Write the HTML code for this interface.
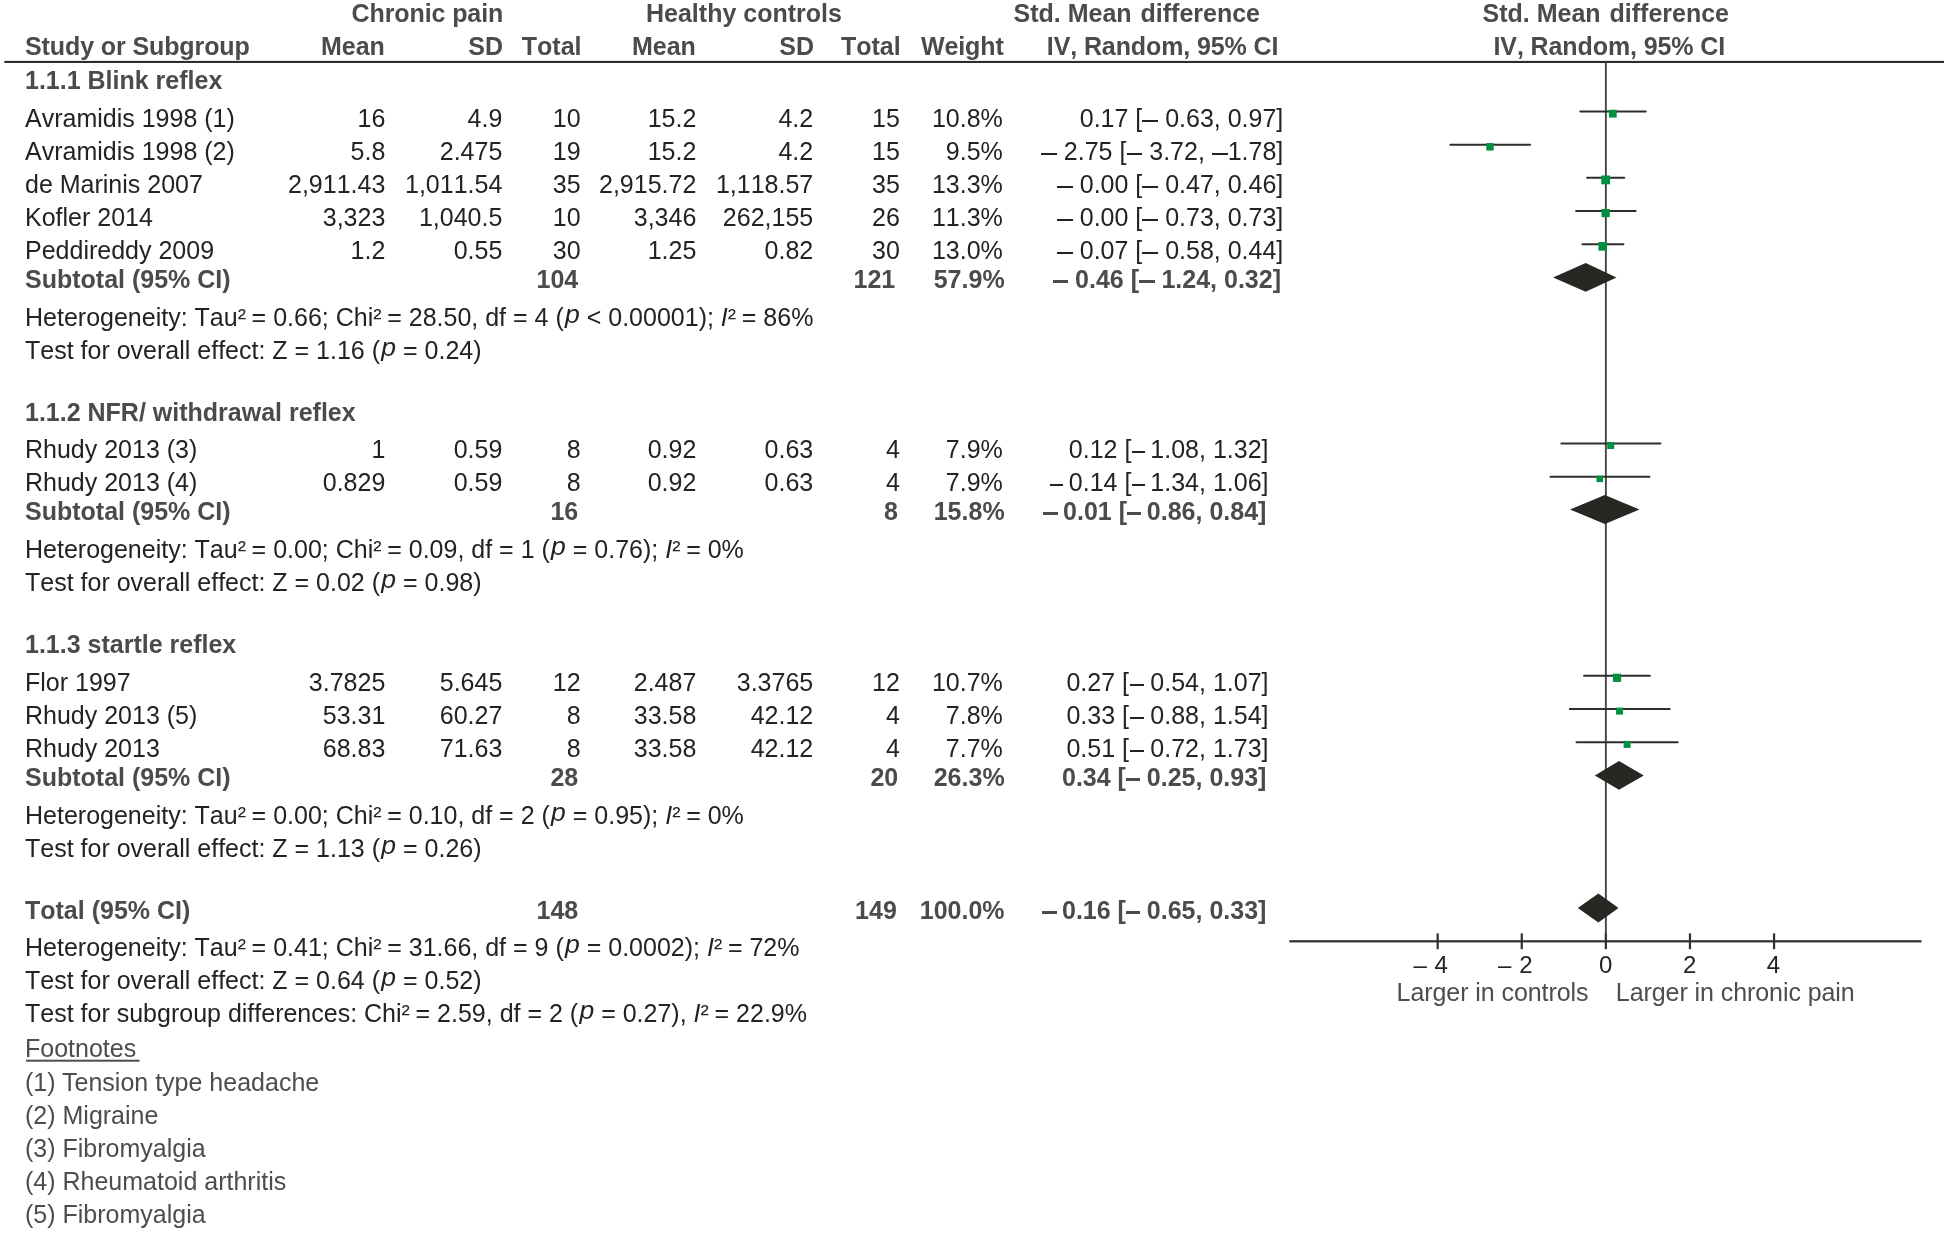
<!DOCTYPE html>
<html><head><meta charset="utf-8"><title>Forest plot</title>
<style>
html,body{margin:0;padding:0;background:#fff;}
body{width:1949px;height:1234px;position:relative;overflow:hidden;font-family:"Liberation Sans",sans-serif;}
.t{position:absolute;white-space:nowrap;font-kerning:none;font-size:25px;line-height:30px;color:#232321;}
.b{font-weight:bold;color:#4b4b49;}
.f{color:#4d4d4b;font-kerning:normal;}
.ax{font-size:24px;}
.ls{letter-spacing:-0.1px;}
.cap{letter-spacing:-0.07px;}
.p{position:relative;top:-3px;font-size:26.5px;margin-left:1.3px;}
.s{margin-right:-1.3px;}
.d{display:inline-block;width:15.9px;height:0;position:relative;vertical-align:baseline;}
.d:before{content:"";position:absolute;left:0.1px;width:15.7px;top:-7.41px;height:2.1px;background:#232321;}
.e{width:12px;}
.e:before{left:0.4px;width:13px;}
.g{width:14.4px;}
.g:before{left:0.7px;width:14.7px;}
.b .d{width:15.5px;}
.b .d:before{left:0.4px;width:15.1px;top:-7.86px;height:3.2px;background:#4b4b49;}
.b .h{width:14px;}
.b .h:before{left:0;width:14.4px;}
.b .e{width:12.9px;}
.b .e:before{left:0;width:14.4px;}
#page{position:absolute;left:0;top:0;width:1949px;height:1234px;will-change:transform;}
svg{position:absolute;left:0;top:0;}
</style></head><body>
<div id="page">
<svg width="1949" height="1234" viewBox="0 0 1949 1234" >
<rect x="4.3" y="60.9" width="1939.7" height="2.1" fill="#2c2c2a"/>
<rect x="1604.91" y="62" width="1.9" height="872" fill="#454543"/>
<rect x="1289.3" y="940.2" width="632.2" height="2.2" fill="#2e2e2c"/>
<rect x="1436.56" y="933.4" width="2.2" height="15.8" fill="#2e2e2c"/>
<rect x="1520.66" y="933.4" width="2.2" height="15.8" fill="#2e2e2c"/>
<rect x="1604.76" y="933.4" width="2.2" height="15.8" fill="#2e2e2c"/>
<rect x="1688.86" y="933.4" width="2.2" height="15.8" fill="#2e2e2c"/>
<rect x="1772.96" y="933.4" width="2.2" height="15.8" fill="#2e2e2c"/>
<rect x="26" y="1059.7" width="113.5" height="2" fill="#4d4d4b"/>
<line x1="1580.27" y1="111.55" x2="1645.75" y2="111.55" stroke="#2e2e2c" stroke-width="1.9" stroke-linecap="round"/>
<rect x="1608.91" y="109.75" width="7.8" height="7.8" fill="#00903f"/>
<line x1="1450.33" y1="144.70" x2="1530.11" y2="144.70" stroke="#2e2e2c" stroke-width="1.9" stroke-linecap="round"/>
<rect x="1486.32" y="143.10" width="7.4" height="7.4" fill="#00903f"/>
<line x1="1587.00" y1="177.80" x2="1624.30" y2="177.80" stroke="#2e2e2c" stroke-width="1.9" stroke-linecap="round"/>
<rect x="1601.26" y="175.50" width="8.8" height="8.8" fill="#00903f"/>
<line x1="1576.06" y1="211.00" x2="1635.66" y2="211.00" stroke="#2e2e2c" stroke-width="1.9" stroke-linecap="round"/>
<rect x="1601.56" y="209.00" width="8.2" height="8.2" fill="#00903f"/>
<line x1="1582.37" y1="244.25" x2="1623.46" y2="244.25" stroke="#2e2e2c" stroke-width="1.9" stroke-linecap="round"/>
<rect x="1598.42" y="242.05" width="8.6" height="8.6" fill="#00903f"/>
<polygon points="1553.1,277.4 1585.7,263.0 1616.5,277.4 1585.7,291.8" fill="#282724"/>
<line x1="1561.35" y1="443.45" x2="1660.47" y2="443.45" stroke="#2e2e2c" stroke-width="1.9" stroke-linecap="round"/>
<rect x="1607.21" y="442.05" width="7.0" height="7.0" fill="#00903f"/>
<line x1="1550.41" y1="476.80" x2="1649.53" y2="476.80" stroke="#2e2e2c" stroke-width="1.9" stroke-linecap="round"/>
<rect x="1596.52" y="475.65" width="6.5" height="6.5" fill="#00903f"/>
<polygon points="1570.0,509.5 1604.8,495.1 1639.5,509.5 1604.8,523.9" fill="#282724"/>
<line x1="1584.05" y1="675.70" x2="1649.95" y2="675.70" stroke="#2e2e2c" stroke-width="1.9" stroke-linecap="round"/>
<rect x="1612.91" y="673.70" width="8.2" height="8.2" fill="#00903f"/>
<line x1="1569.76" y1="709.00" x2="1669.72" y2="709.00" stroke="#2e2e2c" stroke-width="1.9" stroke-linecap="round"/>
<rect x="1616.04" y="707.60" width="7.0" height="7.0" fill="#00903f"/>
<line x1="1576.48" y1="742.30" x2="1677.71" y2="742.30" stroke="#2e2e2c" stroke-width="1.9" stroke-linecap="round"/>
<rect x="1623.61" y="740.90" width="7.0" height="7.0" fill="#00903f"/>
<polygon points="1594.8,775.4 1619.0,761.0 1643.8,775.4 1619.0,789.8" fill="#282724"/>
<polygon points="1577.8,908.0 1598.4,893.6 1618.5,908.0 1598.4,922.4" fill="#282724"/>
</svg>
<div class="t b ls" style="left:351.6px;top:-2px">Chronic pain</div>
<div class="t b" style="left:646px;top:-2px">Healthy controls</div>
<div class="t b" style="left:1013.5px;top:-2px">Std. Mean <span style="margin-left:2px">difference</span></div>
<div class="t b" style="left:1482.5px;top:-2px">Std. Mean <span style="margin-left:2px">difference</span></div>
<div class="t b ls" style="left:25px;top:31px">Study or Subgroup</div>
<div class="t n b" style="right:1564.2px;top:31px">Mean</div>
<div class="t n b" style="right:1446px;top:31px">SD</div>
<div class="t n b" style="right:1367.5px;top:31px">Total</div>
<div class="t n b" style="right:1253.2px;top:31px">Mean</div>
<div class="t n b" style="right:1135px;top:31px">SD</div>
<div class="t n b" style="right:1048.4px;top:31px">Total</div>
<div class="t n b ls" style="right:945.4px;top:31px">Weight</div>
<div class="t b ls" style="left:1046.8px;top:31px">IV, Random, 95% CI</div>
<div class="t b ls" style="left:1493.5px;top:31px">IV, Random, 95% CI</div>
<div class="t b" style="left:25px;top:65px">1.1.1 Blink reflex</div>
<div class="t " style="left:25px;top:103px">Avramidis 1998 (1)</div>
<div class="t n " style="right:1563.7px;top:103px">16</div>
<div class="t n " style="right:1446.7px;top:103px">4.9</div>
<div class="t n " style="right:1368.4px;top:103px">10</div>
<div class="t n " style="right:1252.7px;top:103px">15.2</div>
<div class="t n " style="right:1135.8px;top:103px">4.2</div>
<div class="t n " style="right:1049.1px;top:103px">15</div>
<div class="t n " style="right:946.2px;top:103px">10.8%</div>
<div class="t n " style="right:665.7px;top:103px">0.17 [<span class="d"></span> 0.63, 0.97]</div>
<div class="t " style="left:25px;top:136px">Avramidis 1998 (2)</div>
<div class="t n " style="right:1563.7px;top:136px">5.8</div>
<div class="t n " style="right:1446.7px;top:136px">2.475</div>
<div class="t n " style="right:1368.4px;top:136px">19</div>
<div class="t n " style="right:1252.7px;top:136px">15.2</div>
<div class="t n " style="right:1135.8px;top:136px">4.2</div>
<div class="t n " style="right:1049.1px;top:136px">15</div>
<div class="t n " style="right:946.2px;top:136px">9.5%</div>
<div class="t n " style="right:665.7px;top:136px"><span class="d"></span> 2.75 [<span class="d"></span> 3.72, <span class="d"></span>1.78]</div>
<div class="t " style="left:25px;top:169px">de Marinis 2007</div>
<div class="t n " style="right:1563.7px;top:169px">2,911.43</div>
<div class="t n " style="right:1446.7px;top:169px">1,011.54</div>
<div class="t n " style="right:1368.4px;top:169px">35</div>
<div class="t n " style="right:1252.7px;top:169px">2,915.72</div>
<div class="t n " style="right:1135.8px;top:169px">1,118.57</div>
<div class="t n " style="right:1049.1px;top:169px">35</div>
<div class="t n " style="right:946.2px;top:169px">13.3%</div>
<div class="t n " style="right:665.7px;top:169px"><span class="d"></span> 0.00 [<span class="d"></span> 0.47, 0.46]</div>
<div class="t " style="left:25px;top:202px">Kofler 2014</div>
<div class="t n " style="right:1563.7px;top:202px">3,323</div>
<div class="t n " style="right:1446.7px;top:202px">1,040.5</div>
<div class="t n " style="right:1368.4px;top:202px">10</div>
<div class="t n " style="right:1252.7px;top:202px">3,346</div>
<div class="t n " style="right:1135.8px;top:202px">262,155</div>
<div class="t n " style="right:1049.1px;top:202px">26</div>
<div class="t n " style="right:946.2px;top:202px">11.3%</div>
<div class="t n " style="right:665.7px;top:202px"><span class="d"></span> 0.00 [<span class="d"></span> 0.73, 0.73]</div>
<div class="t " style="left:25px;top:235px">Peddireddy 2009</div>
<div class="t n " style="right:1563.7px;top:235px">1.2</div>
<div class="t n " style="right:1446.7px;top:235px">0.55</div>
<div class="t n " style="right:1368.4px;top:235px">30</div>
<div class="t n " style="right:1252.7px;top:235px">1.25</div>
<div class="t n " style="right:1135.8px;top:235px">0.82</div>
<div class="t n " style="right:1049.1px;top:235px">30</div>
<div class="t n " style="right:946.2px;top:235px">13.0%</div>
<div class="t n " style="right:665.7px;top:235px"><span class="d"></span> 0.07 [<span class="d"></span> 0.58, 0.44]</div>
<div class="t b" style="left:25px;top:264px">Subtotal (95% CI)</div>
<div class="t n b" style="right:1370.8px;top:264px">104</div>
<div class="t n b" style="right:1053.8px;top:264px">121</div>
<div class="t n b" style="right:944.4px;top:264px">57.9%</div>
<div class="t n b" style="right:668px;top:264px"><span class="d"></span> 0.46 [<span class="d"></span> 1.24, 0.32]</div>
<div class="t " style="left:25px;top:302px">Heterogeneity: Tau<span class="s">²</span> = 0.66; Chi<span class="s">²</span> = 28.50, df = 4 (<i class="p">p</i> &lt; 0.00001); <i>I</i><span class="s">²</span> = 86%</div>
<div class="t " style="left:25px;top:335px">Test for overall effect: Z = 1.16 (<i class="p">p</i> = 0.24)</div>
<div class="t b" style="left:25px;top:397px">1.1.2 NFR/ withdrawal reflex</div>
<div class="t " style="left:25px;top:434px">Rhudy 2013 (3)</div>
<div class="t n " style="right:1563.7px;top:434px">1</div>
<div class="t n " style="right:1446.7px;top:434px">0.59</div>
<div class="t n " style="right:1368.4px;top:434px">8</div>
<div class="t n " style="right:1252.7px;top:434px">0.92</div>
<div class="t n " style="right:1135.8px;top:434px">0.63</div>
<div class="t n " style="right:1049.1px;top:434px">4</div>
<div class="t n " style="right:946.2px;top:434px">7.9%</div>
<div class="t n " style="right:680.5px;top:434px">0.12 [<span class="d e"></span> 1.08, 1.32]</div>
<div class="t " style="left:25px;top:467px">Rhudy 2013 (4)</div>
<div class="t n " style="right:1563.7px;top:467px">0.829</div>
<div class="t n " style="right:1446.7px;top:467px">0.59</div>
<div class="t n " style="right:1368.4px;top:467px">8</div>
<div class="t n " style="right:1252.7px;top:467px">0.92</div>
<div class="t n " style="right:1135.8px;top:467px">0.63</div>
<div class="t n " style="right:1049.1px;top:467px">4</div>
<div class="t n " style="right:946.2px;top:467px">7.9%</div>
<div class="t n " style="right:680.5px;top:467px"><span class="d e"></span> 0.14 [<span class="d e"></span> 1.34, 1.06]</div>
<div class="t b" style="left:25px;top:496px">Subtotal (95% CI)</div>
<div class="t n b" style="right:1370.8px;top:496px">16</div>
<div class="t n b" style="right:1051px;top:496px">8</div>
<div class="t n b" style="right:944.4px;top:496px">15.8%</div>
<div class="t n b" style="right:682.6px;top:496px"><span class="d e"></span> 0.01 [<span class="d e"></span> 0.86, 0.84]</div>
<div class="t " style="left:25px;top:534px">Heterogeneity: Tau<span class="s">²</span> = 0.00; Chi<span class="s">²</span> = 0.09, df = 1 (<i class="p">p</i> = 0.76); <i>I</i><span class="s">²</span> = 0%</div>
<div class="t " style="left:25px;top:567px">Test for overall effect: Z = 0.02 (<i class="p">p</i> = 0.98)</div>
<div class="t b" style="left:25px;top:629px">1.1.3 startle reflex</div>
<div class="t " style="left:25px;top:667px">Flor 1997</div>
<div class="t n " style="right:1563.7px;top:667px">3.7825</div>
<div class="t n " style="right:1446.7px;top:667px">5.645</div>
<div class="t n " style="right:1368.4px;top:667px">12</div>
<div class="t n " style="right:1252.7px;top:667px">2.487</div>
<div class="t n " style="right:1135.8px;top:667px">3.3765</div>
<div class="t n " style="right:1049.1px;top:667px">12</div>
<div class="t n " style="right:946.2px;top:667px">10.7%</div>
<div class="t n " style="right:680.5px;top:667px">0.27 [<span class="d g"></span> 0.54, 1.07]</div>
<div class="t " style="left:25px;top:700px">Rhudy 2013 (5)</div>
<div class="t n " style="right:1563.7px;top:700px">53.31</div>
<div class="t n " style="right:1446.7px;top:700px">60.27</div>
<div class="t n " style="right:1368.4px;top:700px">8</div>
<div class="t n " style="right:1252.7px;top:700px">33.58</div>
<div class="t n " style="right:1135.8px;top:700px">42.12</div>
<div class="t n " style="right:1049.1px;top:700px">4</div>
<div class="t n " style="right:946.2px;top:700px">7.8%</div>
<div class="t n " style="right:680.5px;top:700px">0.33 [<span class="d g"></span> 0.88, 1.54]</div>
<div class="t " style="left:25px;top:733px">Rhudy 2013</div>
<div class="t n " style="right:1563.7px;top:733px">68.83</div>
<div class="t n " style="right:1446.7px;top:733px">71.63</div>
<div class="t n " style="right:1368.4px;top:733px">8</div>
<div class="t n " style="right:1252.7px;top:733px">33.58</div>
<div class="t n " style="right:1135.8px;top:733px">42.12</div>
<div class="t n " style="right:1049.1px;top:733px">4</div>
<div class="t n " style="right:946.2px;top:733px">7.7%</div>
<div class="t n " style="right:680.5px;top:733px">0.51 [<span class="d g"></span> 0.72, 1.73]</div>
<div class="t b" style="left:25px;top:762px">Subtotal (95% CI)</div>
<div class="t n b" style="right:1370.8px;top:762px">28</div>
<div class="t n b" style="right:1050.8px;top:762px">20</div>
<div class="t n b" style="right:944.4px;top:762px">26.3%</div>
<div class="t n b" style="right:682.6px;top:762px">0.34 [<span class="d h"></span> 0.25, 0.93]</div>
<div class="t " style="left:25px;top:800px">Heterogeneity: Tau<span class="s">²</span> = 0.00; Chi<span class="s">²</span> = 0.10, df = 2 (<i class="p">p</i> = 0.95); <i>I</i><span class="s">²</span> = 0%</div>
<div class="t " style="left:25px;top:833px">Test for overall effect: Z = 1.13 (<i class="p">p</i> = 0.26)</div>
<div class="t b" style="left:25px;top:895px">Total (95% CI)</div>
<div class="t n b" style="right:1370.8px;top:895px">148</div>
<div class="t n b" style="right:1052.2px;top:895px">149</div>
<div class="t n b" style="right:944.4px;top:895px">100.0%</div>
<div class="t n b" style="right:682.6px;top:895px"><span class="d e"></span> 0.16 [<span class="d h"></span> 0.65, 0.33]</div>
<div class="t " style="left:25px;top:932px">Heterogeneity: Tau<span class="s">²</span> = 0.41; Chi<span class="s">²</span> = 31.66, df = 9 (<i class="p">p</i> = 0.0002); <i>I</i><span class="s">²</span> = 72%</div>
<div class="t " style="left:25px;top:965px">Test for overall effect: Z = 0.64 (<i class="p">p</i> = 0.52)</div>
<div class="t " style="left:25px;top:998px">Test for subgroup differences: Chi<span class="s">²</span> = 2.59, df = 2 (<i class="p">p</i> = 0.27), <i>I</i><span class="s">²</span> = 22.9%</div>
<div class="t f" style="left:25px;top:1033px">Footnotes</div>
<div class="t f" style="left:25px;top:1067px">(1) Tension type headache</div>
<div class="t f" style="left:25px;top:1100px">(2) Migraine</div>
<div class="t f" style="left:25px;top:1133px">(3) Fibromyalgia</div>
<div class="t f" style="left:25px;top:1166px">(4) Rheumatoid arthritis</div>
<div class="t f" style="left:25px;top:1199px">(5) Fibromyalgia</div>
<div class="t ax" style="left:1413.4px;top:950px;word-spacing:1.2px">– 4</div>
<div class="t ax" style="left:1498.1px;top:950px;word-spacing:1.2px">– 2</div>
<div class="t ax" style="left:1599.1px;top:950px;word-spacing:0px">0</div>
<div class="t ax" style="left:1683px;top:950px;word-spacing:0px">2</div>
<div class="t ax" style="left:1766.8px;top:950px;word-spacing:0px">4</div>
<div class="t f cap" style="left:1396.6px;top:977px">Larger in controls</div>
<div class="t f cap" style="left:1615.8px;top:977px">Larger in chronic pain</div>
</div>
</body></html>
